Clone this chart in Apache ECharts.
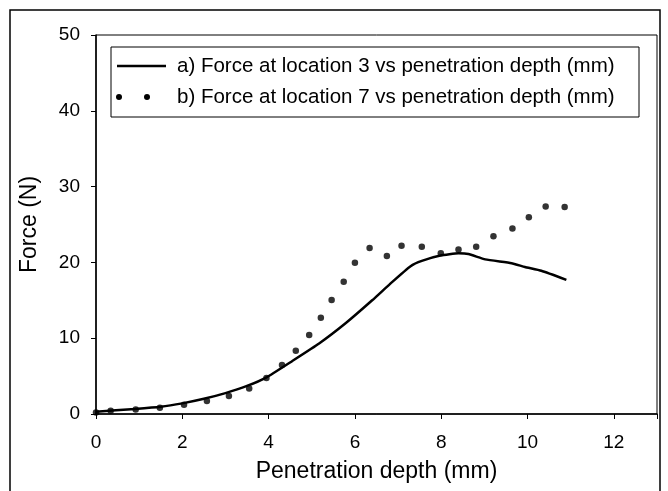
<!DOCTYPE html>
<html>
<head>
<meta charset="utf-8">
<script src="https://cdn.jsdelivr.net/npm/echarts@6/dist/echarts.min.js"></script>
<style>
html,body{margin:0;padding:0;background:#fff;}
#chart{width:668px;height:491px;}
</style>
</head>
<body>
<div id="chart"></div>
<script>
// Series a) Force at location 3 (solid line): [depth mm, force N]
const depthA = [0, 0.9, 1.5, 2.0, 2.5, 3.0, 3.5, 3.94, 4.55, 5.17, 5.79, 6.4, 6.86, 7.29, 7.55, 7.98, 8.4, 8.63, 9.02, 9.63, 9.94, 10.32, 10.9];
const forceA = [0.3, 0.66, 0.95, 1.4, 2.0, 2.75, 3.7, 4.8, 7.0, 9.3, 12.0, 15.0, 17.4, 19.5, 20.2, 20.9, 21.2, 21.1, 20.4, 19.9, 19.4, 18.9, 17.7];
// Series b) Force at location 7 (dots)
const depthB = [0, 0.34, 0.92, 1.48, 2.04, 2.57, 3.08, 3.55, 3.95, 4.31, 4.63, 4.94, 5.21, 5.46, 5.74, 6.0, 6.34, 6.74, 7.08, 7.55, 7.99, 8.4, 8.81, 9.21, 9.65, 10.03, 10.42, 10.86];
const forceB = [0.2, 0.43, 0.6, 0.83, 1.22, 1.71, 2.37, 3.37, 4.74, 6.45, 8.33, 10.43, 12.7, 15.04, 17.45, 19.95, 21.9, 20.83, 22.2, 22.05, 21.2, 21.7, 22.05, 23.46, 24.47, 25.96, 27.37, 27.3];
const seriesNames = ['a) Force at location 3 vs penetration depth (mm)', 'b) Force at location 7 vs penetration depth (mm)'];
const xTicks = [0, 2, 4, 6, 8, 10, 12];
const yTicks = [0, 10, 20, 30, 40, 50];
const xTitle = 'Penetration depth (mm)';
const yTitle = 'Force (N)';

const FONT = 'Liberation Sans, Arial, sans-serif';
const chart = echarts.init(document.getElementById('chart'), null, {renderer: 'canvas'});
const pairs = (xs, ys) => xs.map((x, i) => [x, ys[i]]);

chart.setOption({
  animation: false,
  backgroundColor: '#fff',
  grid: {left: 96, top: 35, right: 11, bottom: 77, show: true, borderColor: '#000', borderWidth: 1},
  xAxis: {
    type: 'value', min: 0, max: 13, interval: 2,
    name: xTitle, nameLocation: 'middle', nameGap: 46,
    nameTextStyle: {fontFamily: FONT, fontSize: 23, color: '#000'},
    axisLine: {onZero: false, lineStyle: {color: '#000', width: 1.5}},
    axisTick: {show: true, length: 5, lineStyle: {color: '#000'}},
    axisLabel: {fontFamily: FONT, fontSize: 19, color: '#000', margin: 19,
      formatter: v => xTicks.indexOf(v) >= 0 ? String(v) : ''},
    splitLine: {show: false}
  },
  yAxis: {
    type: 'value', min: 0, max: 50, interval: 10,
    name: yTitle, nameLocation: 'middle', nameGap: 55,
    nameTextStyle: {fontFamily: FONT, fontSize: 23, color: '#000'},
    axisLine: {show: true, lineStyle: {color: '#000', width: 1.5}},
    axisTick: {show: true, length: 5, lineStyle: {color: '#000'}},
    axisLabel: {fontFamily: FONT, fontSize: 19, color: '#000', margin: 16,
      formatter: v => yTicks.indexOf(v) >= 0 ? String(v) : ''},
    splitLine: {show: false}
  },
  series: [
    {name: seriesNames[0], type: 'line', data: pairs(depthA, forceA), showSymbol: false,
      smooth: 0.15, lineStyle: {color: '#000', width: 2.5}, z: 2},
    {name: seriesNames[1], type: 'scatter', data: pairs(depthB, forceB), symbol: 'circle',
      symbolSize: 6.5, itemStyle: {color: '#000'}, z: 3}
  ],
  graphic: [
    {type: 'rect', shape: {x: 10, y: 10, width: 650, height: 495}, style: {fill: 'none', stroke: '#000', lineWidth: 1.5}, silent: true},
    {type: 'rect', shape: {x: 111, y: 47, width: 528, height: 70}, style: {fill: '#fff', stroke: '#000', lineWidth: 1}, z: 10},
    {type: 'line', shape: {x1: 117, y1: 66, x2: 166, y2: 66}, style: {stroke: '#000', lineWidth: 2.5}, z: 11},
    {type: 'circle', shape: {cx: 119, cy: 97, r: 3}, style: {fill: '#000'}, z: 11},
    {type: 'circle', shape: {cx: 147, cy: 97, r: 3}, style: {fill: '#000'}, z: 11},
    {type: 'text', x: 177, y: 66, style: {text: seriesNames[0], fontFamily: FONT, fontSize: 20.5, fill: '#000', verticalAlign: 'middle'}, z: 11},
    {type: 'text', x: 177, y: 97, style: {text: seriesNames[1], fontFamily: FONT, fontSize: 20.5, fill: '#000', verticalAlign: 'middle'}, z: 11}
  ]
});
</script>
</body>
</html>
